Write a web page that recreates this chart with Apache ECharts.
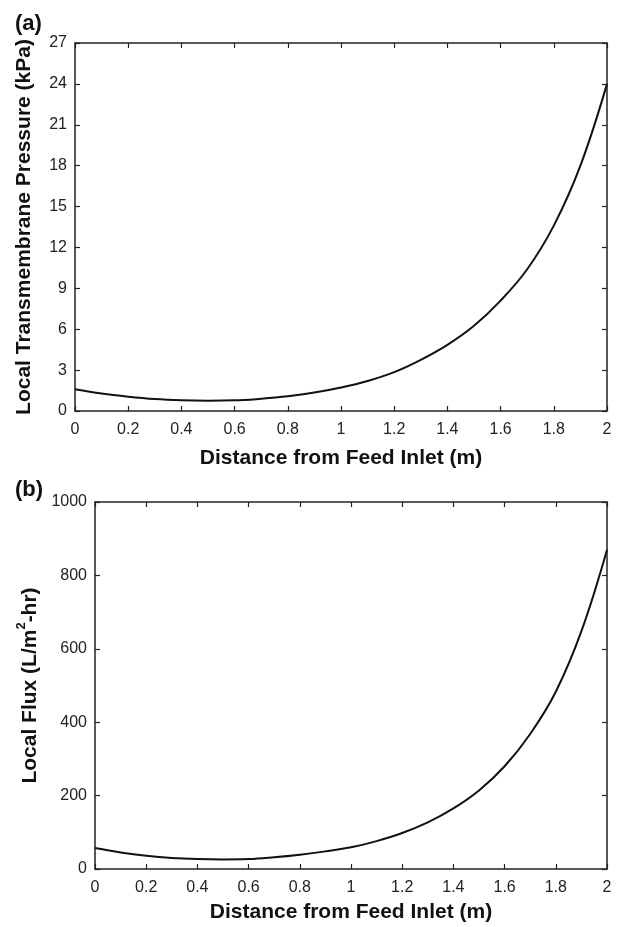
<!DOCTYPE html>
<html>
<head>
<meta charset="utf-8">
<script src="https://cdn.jsdelivr.net/npm/echarts@6/dist/echarts.min.js"></script>
<style>
  html, body { margin: 0; padding: 0; background: #fff; }
  #chart { width: 619px; height: 927px; }
</style>
</head>
<body>
<div id="chart"></div>
<script>
// distance from feed inlet (m)
const distance = [0, 0.1, 0.2, 0.3, 0.4, 0.5, 0.6, 0.7, 0.8, 0.9, 1.0,
                  1.1, 1.2, 1.3, 1.4, 1.5, 1.6, 1.7, 1.8, 1.9, 2.0]
// (a) local transmembrane pressure (kPa)
const pressure = [1.6, 1.28, 1.05, 0.88, 0.79, 0.76, 0.78, 0.9, 1.08, 1.35, 1.72,
                  2.2, 2.85, 3.75, 4.85, 6.25, 8.1, 10.4, 13.6, 18.0, 24.0]
// (b) local flux (L/m2-hr)
const flux = [57, 45, 36, 30, 27, 26, 27, 32, 39, 48, 59,
              76, 98, 127, 165, 214, 280, 368, 483, 648, 870]

const fontFam = '"Liberation Sans", Arial, Helvetica, sans-serif'
const axisColor = '#222'

function pairs (ys) {
  return distance.map((x, i) => [x, ys[i]])
}

function xAx (grid, pos, showLabel, name) {
  return {
    type: 'value', gridIndex: grid, position: pos,
    min: 0, max: 2, interval: 0.2,
    axisLine: { show: true, onZero: false, lineStyle: { color: axisColor, width: 1.5 } },
    axisTick: { show: true, inside: true, length: 5, lineStyle: { color: axisColor, width: 1.2 } },
    axisLabel: { show: showLabel, margin: 11, color: '#222', fontSize: 16, fontFamily: fontFam },
    splitLine: { show: false },
    name: name,
    nameLocation: 'middle',
    nameGap: grid === 0 ? 37 : 33,
    nameTextStyle: { color: '#111', fontSize: 21, fontWeight: 'bold', fontFamily: fontFam }
  }
}

function yAx (grid, pos, showLabel, max, interval, name, gap) {
  return {
    type: 'value', gridIndex: grid, position: pos,
    min: 0, max: max, interval: interval,
    axisLine: { show: true, onZero: false, lineStyle: { color: axisColor, width: 1.5 } },
    axisTick: { show: true, inside: true, length: 5, lineStyle: { color: axisColor, width: 1.2 } },
    axisLabel: {
      show: showLabel, margin: 8, color: '#222', fontSize: 16, fontFamily: fontFam,
      formatter: v => String(v)
    },
    splitLine: { show: false },
    name: name,
    nameLocation: 'middle',
    nameGap: gap,
    nameTextStyle: {
      color: '#111', fontSize: 21, fontWeight: 'bold', fontFamily: fontFam,
      rich: {
        a: { fontSize: 21, fontWeight: 'bold', fontFamily: fontFam, color: '#111', lineHeight: 26, verticalAlign: 'bottom' },
        s: { fontSize: 13, fontWeight: 'bold', fontFamily: fontFam, color: '#111', lineHeight: 26, verticalAlign: 'top', padding: [0, 0, 8, 0] }
      }
    }
  }
}

let myChart = echarts.init(document.getElementById('chart'))
myChart.setOption({
  animation: false,
  backgroundColor: '#fff',
  title: [
    { text: '(a)', left: 10, top: 8, textStyle: { fontSize: 22, fontWeight: 'bold', fontFamily: fontFam, color: '#111' } },
    { text: '(b)', left: 10, top: 474, textStyle: { fontSize: 22, fontWeight: 'bold', fontFamily: fontFam, color: '#111' } }
  ],
  grid: [
    { left: 75, right: 12, top: 43, height: 368 },
    { left: 95, right: 12, top: 502, height: 367 }
  ],
  xAxis: [
    xAx(0, 'bottom', true, 'Distance from Feed Inlet (m)'),
    xAx(0, 'top', false, ''),
    xAx(1, 'bottom', true, 'Distance from Feed Inlet (m)'),
    xAx(1, 'top', false, '')
  ],
  yAxis: [
    yAx(0, 'left', true, 27, 3, 'Local Transmembrane Pressure (kPa)', 40),
    yAx(0, 'right', false, 27, 3, '', 0),
    yAx(1, 'left', true, 1000, 200, '{a|Local Flux (L/m}{s|2}{a|-hr)}', 52),
    yAx(1, 'right', false, 1000, 200, '', 0)
  ],
  series: [
    {
      name: 'pressure', type: 'line', xAxisIndex: 0, yAxisIndex: 0,
      data: pairs(pressure), smooth: 0.4, showSymbol: false,
      lineStyle: { color: '#111', width: 2 }
    },
    {
      name: 'flux', type: 'line', xAxisIndex: 2, yAxisIndex: 2,
      data: pairs(flux), smooth: 0.4, showSymbol: false,
      lineStyle: { color: '#111', width: 2 }
    }
  ]
})
</script>
</body>
</html>
